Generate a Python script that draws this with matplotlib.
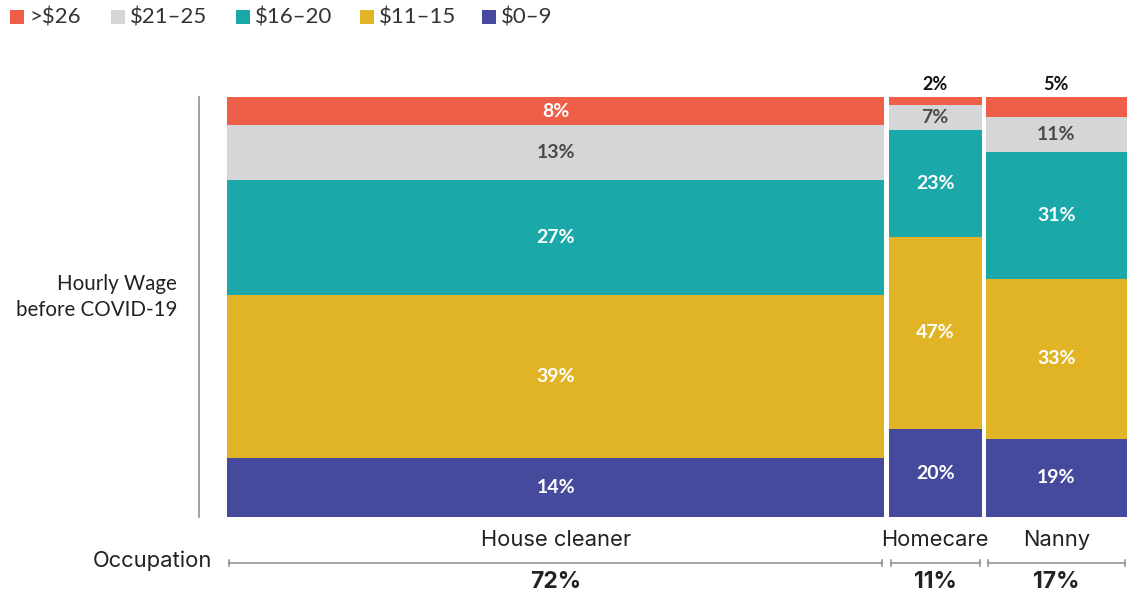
import matplotlib
matplotlib.use("Agg")
import matplotlib.pyplot as plt
from matplotlib.patches import Rectangle
from matplotlib.lines import Line2D
from matplotlib import transforms

# ---------------- data ----------------
occupations = ["House cleaner", "Homecare", "Nanny"]
occupation_share_labels = [72, 11, 17]          # printed shares
occupation_width = [73.5, 10.8, 15.7]           # drawn column widths

wage_bands = ["$0–9", "$11–15", "$16–20", "$21–25", ">$26"]   # bottom -> top
band_colors = ["#464A9C", "#E0B424", "#1BA8A9", "#D5D6D8", "#EE5E48"]
label_colors = ["white", "white", "white", "#4a4a4a", "white"]

# drawn segment heights (bottom -> top)
house_cleaner_heights = [14.2, 38.7, 27.4, 13.0, 6.7]
homecare_heights = [21.0, 45.9, 25.4, 6.0, 1.8]
nanny_heights = [18.7, 38.1, 30.2, 8.1, 4.8]

# printed labels (bottom -> top)
house_cleaner_labels = [14, 39, 27, 13, 8]
homecare_labels = [20, 47, 23, 7, 2]
nanny_labels = [19, 33, 31, 11, 5]

heights = [house_cleaner_heights, homecare_heights, nanny_heights]
labels = [house_cleaner_labels, homecare_labels, nanny_labels]

# ---------------- figure ----------------
W, H = 1127, 596
fig = plt.figure(figsize=(W / 100, H / 100), dpi=100)
fig.patch.set_facecolor("white")

def fx(px):
    return px / W

def fy(py):
    return 1 - py / H

ax_left, ax_right, ax_top, ax_bot = 227, 1127, 97.3, 517.3
ax = fig.add_axes([fx(ax_left), fy(ax_bot), fx(ax_right - ax_left), (ax_bot - ax_top) / H])
ax.set_xlim(0, sum(occupation_width))
ax.set_ylim(0, 100)
ax.axis("off")

gap = 0.45
lab_font = "Lato"
txt_font = "Inter"

left = 0.0
centers = []
col_spans = []
for i, occ in enumerate(occupations):
    w = occupation_width[i]
    drawn_w = w - gap if i < len(occupations) - 1 else w
    hs = heights[i]
    tot = sum(hs)
    bottom = 0.0
    cx = left + drawn_w / 2
    centers.append(cx)
    col_spans.append((left, left + drawn_w))
    for j, h in enumerate(hs):
        hh = h / tot * 100
        ax.bar(left, hh, width=drawn_w, bottom=bottom, align="edge",
               color=band_colors[j], linewidth=0)
        txt = f"{labels[i][j]}%"
        if hh < 6 and j == len(hs) - 1:
            ax.annotate(txt, xy=(cx, 100), xytext=(0, 9.5), textcoords="offset points",
                        ha="center", va="center", fontsize=13, fontweight="bold",
                        color="#111111", family=lab_font, annotation_clip=False)
        else:
            ax.text(cx, bottom + hh / 2, txt, ha="center", va="center",
                    fontsize=14, fontweight="bold", color=label_colors[j],
                    family=lab_font)
        bottom += hh
    left += w

# left vertical rule
fig.add_artist(Line2D([fx(199), fx(199)], [fy(97), fy(517)], color="#9a9a9a", lw=1.3))

fig.text(fx(177), fy(297), "Hourly Wage\nbefore COVID-19", ha="right", va="center",
         fontsize=14.8, color="#222222", family=lab_font, linespacing=1.32)

# occupation brackets
btrans = transforms.blended_transform_factory(ax.transData, fig.transFigure)
px_per_unit = (ax_right - ax_left) / sum(occupation_width)
inset = 2 / px_per_unit
y_line = fy(562.5)
tick_h = 3 / H
for i, (a, b) in enumerate(col_spans):
    x0, x1 = a + inset, b - inset
    fig.add_artist(Line2D([x0, x1], [y_line, y_line], color="#8a8a8a", lw=1.1, transform=btrans))
    for xx in (x0, x1):
        fig.add_artist(Line2D([xx, xx], [y_line - tick_h, y_line + tick_h], color="#8a8a8a",
                              lw=1.1, transform=btrans))
    fig.text(centers[i], fy(540.5), occupations[i], ha="center", va="center",
             fontsize=15.8, color="#222222", family=txt_font, transform=btrans)
    fig.text(centers[i], fy(582), f"{occupation_share_labels[i]}%", ha="center", va="center",
             fontsize=16.5, fontweight="bold", color="#222222", family=txt_font, transform=btrans)

fig.text(fx(212), fy(561), "Occupation", ha="right", va="center", fontsize=15.8,
         color="#222222", family=txt_font)

# legend (top -> bottom order of bands)
legend_x = [10, 111, 236, 360, 482]
for k, j in enumerate(range(len(wage_bands) - 1, -1, -1)):
    x = legend_x[k]
    fig.add_artist(Rectangle((fx(x), fy(24)), fx(14), 14 / H, transform=fig.transFigure,
                             facecolor=band_colors[j], edgecolor="none"))
    fig.text(fx(x + 19), fy(17), wage_bands[j], ha="left", va="center", fontsize=16,
             color="#333333", family=lab_font)

fig.savefig("out.png", dpi=100, facecolor="white")
